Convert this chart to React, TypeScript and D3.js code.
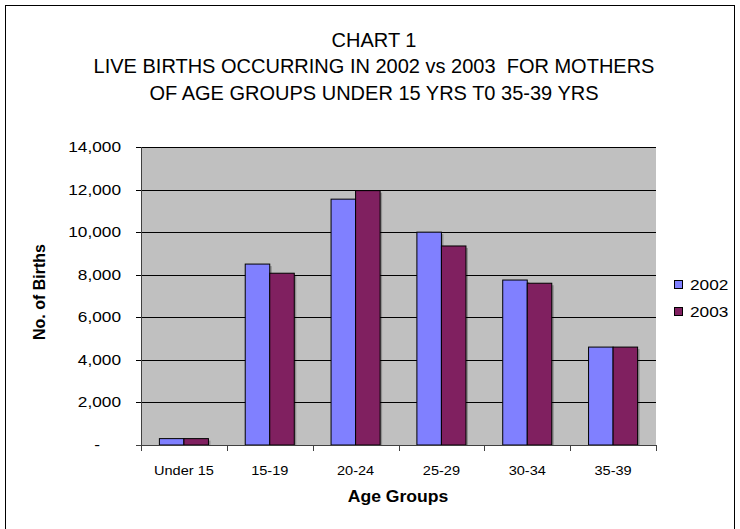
import React from "react";
import * as d3 from "d3";

const categories = ["Under 15", "15-19", "20-24", "25-29", "30-34", "35-39"];
const seriesNames = ["2002", "2003"];
const values2002 = [300, 8500, 11550, 10000, 7750, 4600];
const values2003 = [300, 8070, 11950, 9350, 7600, 4600];
const yTicks = [0, 2000, 4000, 6000, 8000, 10000, 12000, 14000];
const titleLines = [
  "CHART 1",
  "LIVE BIRTHS OCCURRING IN 2002 vs 2003  FOR MOTHERS",
  "OF AGE GROUPS UNDER 15 YRS T0 35-39 YRS",
];
const colors = ["#8080FF", "#802060"];

const W = 740;
const H = 529;
const FONT = "'Liberation Sans', Arial, sans-serif";

function SText({ x, y, sx = 1.15, anchor = "middle", size, bold = false, children }: any) {
  return (
    <g transform={`translate(${x},${y}) scale(${sx},1)`}>
      <text
        x={0}
        y={0}
        textAnchor={anchor}
        fontFamily={FONT}
        fontSize={size}
        fontWeight={bold ? "bold" : "normal"}
        fill="#000"
        style={{ whiteSpace: "pre" }}
      >
        {children}
      </text>
    </g>
  );
}

export default function App() {
  const plot = { left: 141, right: 656, top: 147, bottom: 445 };
  const x = d3.scaleBand<string>().domain(categories).range([plot.left, plot.right]).paddingInner(0).paddingOuter(0);
  const y = d3.scaleLinear().domain([0, 14000]).range([plot.bottom, plot.top]);
  const step = x.bandwidth();
  const barW = step / 3.5;
  const inner = d3
    .scaleBand<string>()
    .domain(seriesNames)
    .range([barW * 0.75, barW * 2.75])
    .padding(0);
  const series = [values2002, values2003];
  const fmt = d3.format(",");
  const boundaries = d3.range(categories.length + 1).map((i) => plot.left + i * step);

  return (
    <svg
      width={W}
      height={H}
      style={{ position: "absolute", left: 0, top: 0, background: "#fff" }}
    >
      <rect x={0} y={0} width={W} height={H} fill="#fff" />
      <rect x={5.5} y={5.5} width={729} height={H + 10} fill="none" stroke="#000" strokeWidth={1} />

      {titleLines.map((t, i) => (
        <SText key={i} x={374} y={47 + i * 26.3} size={20} sx={1.0}>
          {t}
        </SText>
      ))}

      <rect
        x={plot.left}
        y={plot.top}
        width={plot.right - plot.left}
        height={plot.bottom - plot.top}
        fill="#C0C0C0"
      />
      {yTicks.map((t) => (
        <line
          key={t}
          x1={plot.left - 5}
          x2={plot.right}
          y1={Math.round(y(t)) + 0.5}
          y2={Math.round(y(t)) + 0.5}
          stroke="#000"
          strokeWidth={1}
        />
      ))}

      {categories.map((c, ci) =>
        seriesNames.map((s, si) => {
          const v = series[si][ci];
          const bx = (x(c) as number) + (inner(s) as number);
          const by = y(v);
          const bh = plot.bottom - by;
          return (
            <g key={c + s}>
              <rect x={bx + 2} y={by + 2} width={inner.bandwidth()} height={bh - 2} fill="#000" opacity={0.25} />
              <rect
                x={bx}
                y={by}
                width={inner.bandwidth()}
                height={bh}
                fill={colors[si]}
                stroke="#000"
                strokeWidth={1}
              />
            </g>
          );
        })
      )}

      <line x1={plot.left + 0.5} x2={plot.left + 0.5} y1={plot.top} y2={plot.bottom + 5} stroke="#404040" />
      <line x1={plot.left - 5} x2={plot.right} y1={plot.bottom + 0.5} y2={plot.bottom + 0.5} stroke="#404040" />
      {boundaries.map((b, i) => (
        <line key={i} x1={Math.round(b) + 0.5} x2={Math.round(b) + 0.5} y1={plot.bottom} y2={plot.bottom + 6} stroke="#404040" />
      ))}

      {yTicks.map((t) => (
        <SText key={t} x={t === 0 ? 100 : 121} y={y(t) + 5} size={15} anchor="end" sx={1.15}>
          {t === 0 ? "-" : fmt(t)}
        </SText>
      ))}

      {categories.map((c) => (
        <SText key={c} x={(x(c) as number) + step / 2} y={475} size={13} sx={1.12}>
          {c}
        </SText>
      ))}

      <SText x={398} y={502} size={16} bold sx={1.1}>
        Age Groups
      </SText>

      <g transform="translate(45,292) rotate(-90)">
        <text x={0} y={0} textAnchor="middle" fontFamily={FONT} fontSize={16} fontWeight="bold">
          No. of Births
        </text>
      </g>

      {seriesNames.map((s, i) => (
        <g key={s}>
          <rect x={674.5} y={280.5 + i * 27} width={8} height={8} fill={colors[i]} stroke="#000" />
          <SText x={690} y={290 + i * 27} size={15} anchor="start" sx={1.15}>
            {s}
          </SText>
        </g>
      ))}
    </svg>
  );
}
